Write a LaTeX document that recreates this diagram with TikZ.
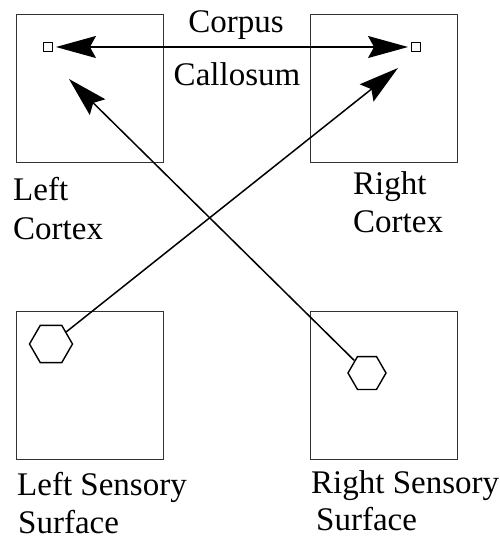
\documentclass[tikz,border=0pt]{standalone}
\usepackage{fontspec}
\setmainfont{Liberation Serif}
\usetikzlibrary{arrows.meta,shapes.geometric}
\begin{document}
\begin{tikzpicture}[x=1pt,y=-1pt,
  region/.style={draw=black!80,line width=1pt},
  cell/.style={draw,line width=0.9pt,minimum size=9pt,inner sep=0pt,rectangle},
  hex/.style={draw,line width=1.4pt,regular polygon,regular polygon sides=6,inner sep=0pt},
  conn/.style={line width=1.5pt,-{Stealth[length=40pt,width=22pt,inset=6pt]}},
  lbl/.style={anchor=base west,inner sep=0pt,font=\fontsize{33}{38}\selectfont}]
\useasboundingbox (0,0) rectangle (499,539);
% boxes
\draw[region] (16,14) rectangle (163,162);
\draw[region] (310,14) rectangle (457,162);
\draw[region] (16,311) rectangle (163,459);
\draw[region] (310,311) rectangle (457,459);
% small squares
\node[cell] (lsq) at (48,47) {};
\node[cell] (rsq) at (416,47) {};
% hexagons
\node[hex,minimum size=43pt] (lhex) at (51,344) {};
\node[hex,minimum size=38pt] (rhex) at (367,373) {};
% free ends
\coordinate (ltip) at (69,79);
\coordinate (rtip) at (398,68);
% connectors
\draw[line width=1.5pt,{Stealth[length=40pt,width=22pt,inset=6pt]}-{Stealth[length=40pt,width=22pt,inset=6pt]},shorten <=3pt,shorten >=3pt] (lsq) -- (rsq);
\draw[conn] (rhex) -- (ltip);
\draw[conn] (lhex) -- (rtip);
% labels
\node[lbl,anchor=base] (corpus) at (236,32) {Corpus};
\node[lbl,anchor=base] (callosum) at (237,85) {Callosum};
\node[lbl] (lc1) at (13,200) {Left};
\node[lbl] (lc2) at (13,239) {Cortex};
\node[lbl] (rc1) at (353,194) {Right};
\node[lbl] (rc2) at (353,232) {Cortex};
\node[lbl] (ls1) at (17,495) {Left Sensory};
\node[lbl] (ls2) at (18,533) {Surface};
\node[lbl] (rs1) at (311,493) {Right Sensory};
\node[lbl] (rs2) at (316,530) {Surface};
\end{tikzpicture}
\end{document}
